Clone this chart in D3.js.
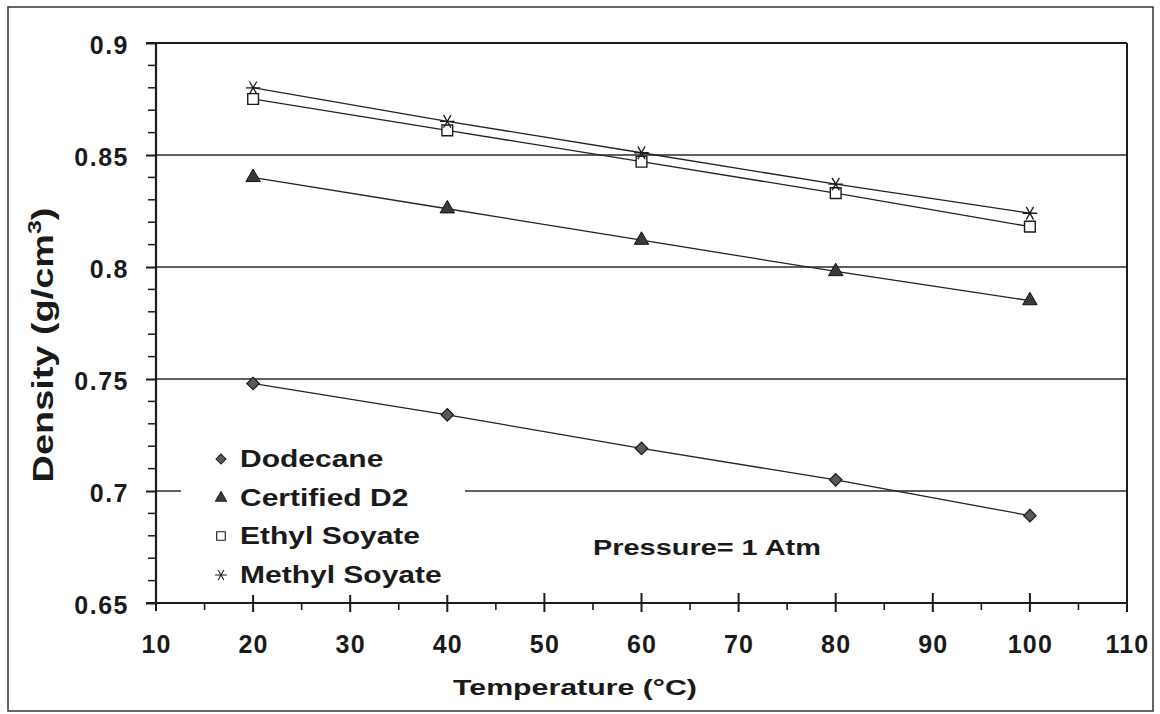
<!DOCTYPE html>
<html>
<head>
<meta charset="utf-8">
<script src="https://cdn.jsdelivr.net/npm/d3@7"></script>
<style>
  html, body { margin: 0; padding: 0; background: #fff; }
  svg { display: block; }
  text { font-family: "Liberation Sans", Arial, sans-serif; font-weight: bold; fill: #1a1a1a; }
</style>
</head>
<body>
<svg id="chart" width="1160" height="714"></svg>
<script>
// Density of fuels vs temperature at 1 atm
const temperatures = [20, 40, 60, 80, 100];
const dodecane     = [0.748, 0.734, 0.719, 0.705, 0.689];
const certifiedD2  = [0.840, 0.826, 0.812, 0.798, 0.785];
const ethylSoyate  = [0.875, 0.861, 0.847, 0.833, 0.818];
const methylSoyate = [0.880, 0.865, 0.851, 0.837, 0.824];

const seriesNames = ["Dodecane", "Certified D2", "Ethyl Soyate", "Methyl Soyate"];

const xTicks = [10, 20, 30, 40, 50, 60, 70, 80, 90, 100, 110];
const xTickLabels = ["10", "20", "30", "40", "50", "60", "70", "80", "90", "100", "110"];
const yTicks = [0.65, 0.7, 0.75, 0.8, 0.85, 0.9];
const yTickLabels = ["0.65", "0.7", "0.75", "0.8", "0.85", "0.9"];
const gridValues = [0.7, 0.75, 0.8, 0.85];

const xTitle = "Temperature (°C)";
const yTitle = "Density (g/cm";
const yTitleSup = "3";
const noteText = "Pressure= 1 Atm";

const series = [
  { name: seriesNames[0], values: dodecane,     symbol: "diamond" },
  { name: seriesNames[1], values: certifiedD2,  symbol: "triangle" },
  { name: seriesNames[2], values: ethylSoyate,  symbol: "square" },
  { name: seriesNames[3], values: methylSoyate, symbol: "asterisk" }
];

const svg = d3.select("#chart");
const ink = "#1c1c1c";

const plot = { left: 156, right: 1127, top: 43, bottom: 603 };
const x = d3.scaleLinear().domain([10, 110]).range([plot.left, plot.right]);
const y = d3.scaleLinear().domain([0.65, 0.9]).range([plot.bottom, plot.top]);

// stretch a text element horizontally (in its own frame) to a target length
function fitWidth(sel, target, tx, ty, rot) {
  const w = sel.node().getComputedTextLength();
  const k = target / w;
  sel.attr("transform", `translate(${tx},${ty})` + (rot ? ` rotate(${rot})` : "") + ` scale(${k},1)`);
}

// outer frame
svg.append("rect")
  .attr("x", 8).attr("y", 7).attr("width", 1145).attr("height", 704)
  .attr("fill", "none").attr("stroke", "#333").attr("stroke-width", 1.5);

// horizontal gridlines
svg.append("g").selectAll("line").data(gridValues).join("line")
  .attr("x1", plot.left).attr("x2", plot.right)
  .attr("y1", d => y(d)).attr("y2", d => y(d))
  .attr("stroke", "#2a2a2a").attr("stroke-width", 1.4);

// plot frame: top and right
svg.append("line").attr("x1", plot.left - 10).attr("x2", plot.right)
  .attr("y1", y(0.9)).attr("y2", y(0.9)).attr("stroke", ink).attr("stroke-width", 2);
svg.append("line").attr("x1", plot.right).attr("x2", plot.right)
  .attr("y1", plot.top).attr("y2", plot.bottom).attr("stroke", ink).attr("stroke-width", 2);

// y axis: labels via axis generator, ticks through the scale
const yAxis = svg.append("g")
  .attr("transform", `translate(${plot.left},0)`)
  .call(d3.axisLeft(y).tickValues(yTicks).tickSize(10).tickPadding(17)
    .tickFormat((d, i) => yTickLabels[i]));
yAxis.select(".domain").remove();
yAxis.selectAll(".tick line").attr("stroke", ink).attr("stroke-width", 2);
yAxis.selectAll(".tick text")
  .style("font-family", '"Liberation Sans", Arial, sans-serif')
  .style("font-weight", "bold").style("font-size", "25px")
  .attr("fill", ink).attr("dy", "0.42em").attr("letter-spacing", "1.5px");

const yMinor = d3.range(0.65, 0.9001, 0.01).filter(v => !yTicks.some(t => Math.abs(t - v) < 1e-6));
svg.append("g").selectAll("line").data(yMinor).join("line")
  .attr("x1", plot.left - 8).attr("x2", plot.left + 1)
  .attr("y1", d => y(d)).attr("y2", d => y(d))
  .attr("stroke", ink).attr("stroke-width", 1.5);

svg.append("line").attr("x1", plot.left).attr("x2", plot.left)
  .attr("y1", plot.top).attr("y2", plot.bottom).attr("stroke", ink).attr("stroke-width", 2.2);

// x axis
const xAxis = svg.append("g")
  .attr("transform", `translate(0,${plot.bottom})`)
  .call(d3.axisBottom(x).tickValues(xTicks).tickSize(0).tickPadding(50)
    .tickFormat((d, i) => xTickLabels[i]));
xAxis.select(".domain").remove();
xAxis.selectAll(".tick text")
  .style("font-family", '"Liberation Sans", Arial, sans-serif')
  .style("font-weight", "bold").style("font-size", "25px")
  .attr("fill", ink).attr("dy", "0").attr("letter-spacing", "1.2px");

svg.append("g").selectAll("line").data(xTicks.slice(1)).join("line")
  .attr("x1", d => x(d)).attr("x2", d => x(d))
  .attr("y1", plot.bottom - 10).attr("y2", plot.bottom + 9)
  .attr("stroke", ink).attr("stroke-width", 2);
svg.append("line").attr("x1", x(10)).attr("x2", x(10))
  .attr("y1", plot.bottom).attr("y2", plot.bottom + 8)
  .attr("stroke", ink).attr("stroke-width", 2);
const xMinor = d3.range(15, 110, 10);
svg.append("g").selectAll("line").data(xMinor).join("line")
  .attr("x1", d => x(d)).attr("x2", d => x(d))
  .attr("y1", plot.bottom).attr("y2", plot.bottom + 7)
  .attr("stroke", ink).attr("stroke-width", 1.6);

svg.append("line").attr("x1", plot.left - 10).attr("x2", plot.right)
  .attr("y1", plot.bottom).attr("y2", plot.bottom).attr("stroke", ink).attr("stroke-width", 2.2);

// legend backing (hides the gridline behind the key)
svg.append("rect")
  .attr("x", 181).attr("y", 440).attr("width", 284).attr("height", 155)
  .attr("fill", "#fff");

// series lines
const line = d3.line().x((d, i) => x(temperatures[i])).y(d => y(d));
svg.append("g").selectAll("path").data(series).join("path")
  .attr("d", s => line(s.values))
  .attr("fill", "none").attr("stroke", "#222").attr("stroke-width", 1.3);

// markers
const symbolGen = {
  diamond:  d3.symbol().type(d3.symbolSquare).size(78),
  triangle: d3.symbol().type(d3.symbolTriangle).size(90),
  square:   d3.symbol().type(d3.symbolSquare).size(115),
  asterisk: d3.symbol().type(d3.symbolAsterisk).size(150)
};
function drawMarker(g, kind, cx, cy, scale) {
  const k = scale || 1;
  const p = g.append("path").attr("d", symbolGen[kind]());
  if (kind === "diamond") {
    p.attr("transform", `translate(${cx},${cy}) rotate(45) scale(${k})`)
      .attr("fill", "#5a5a5a").attr("stroke", "#1a1a1a").attr("stroke-width", 1.2);
  } else if (kind === "triangle") {
    p.attr("transform", `translate(${cx},${cy}) scale(${k})`)
      .attr("fill", "#3a3a3a").attr("stroke", "#111").attr("stroke-width", 1);
  } else if (kind === "square") {
    p.attr("transform", `translate(${cx},${cy}) scale(${k})`)
      .attr("fill", "#fff").attr("stroke", "#1a1a1a").attr("stroke-width", 1.4);
  } else {
    p.attr("transform", `translate(${cx},${cy}) rotate(90) scale(${k})`)
      .attr("fill", "none").attr("stroke", "#1a1a1a").attr("stroke-width", 1.3);
  }
}
const markerLayer = svg.append("g");
series.forEach(s => {
  s.values.forEach((v, i) => drawMarker(markerLayer, s.symbol, x(temperatures[i]), y(v)));
});

// legend
const legendRows = [459, 498, 536, 575];
const legend = svg.append("g");
series.forEach((s, i) => {
  drawMarker(legend, s.symbol, 221, legendRows[i], 0.8);
  const t = legend.append("text")
    .attr("x", 0).attr("y", 0)
    .style("font-size", "24px")
    .text(s.name);
  const w = t.node().getComputedTextLength();
  fitWidth(t, w * 1.25, 240, legendRows[i] + 8);
});

// pressure note
const note = svg.append("text").attr("x", 0).attr("y", 0)
  .style("font-size", "23px").text(noteText);
fitWidth(note, 228, 593, 555);

// axis titles
const xt = svg.append("text").attr("x", 0).attr("y", 0)
  .attr("text-anchor", "middle").style("font-size", "22px").text(xTitle);
fitWidth(xt, 244, 575, 695);

const yt = svg.append("text").attr("x", 0).attr("y", 0)
  .attr("text-anchor", "middle").style("font-size", "29px");
yt.append("tspan").text(yTitle);
yt.append("tspan").attr("dy", "-12").style("font-size", "19px").text(yTitleSup);
yt.append("tspan").attr("dy", "12").text(")");
fitWidth(yt, 275, 53, 345, -90);
</script>
</body>
</html>
